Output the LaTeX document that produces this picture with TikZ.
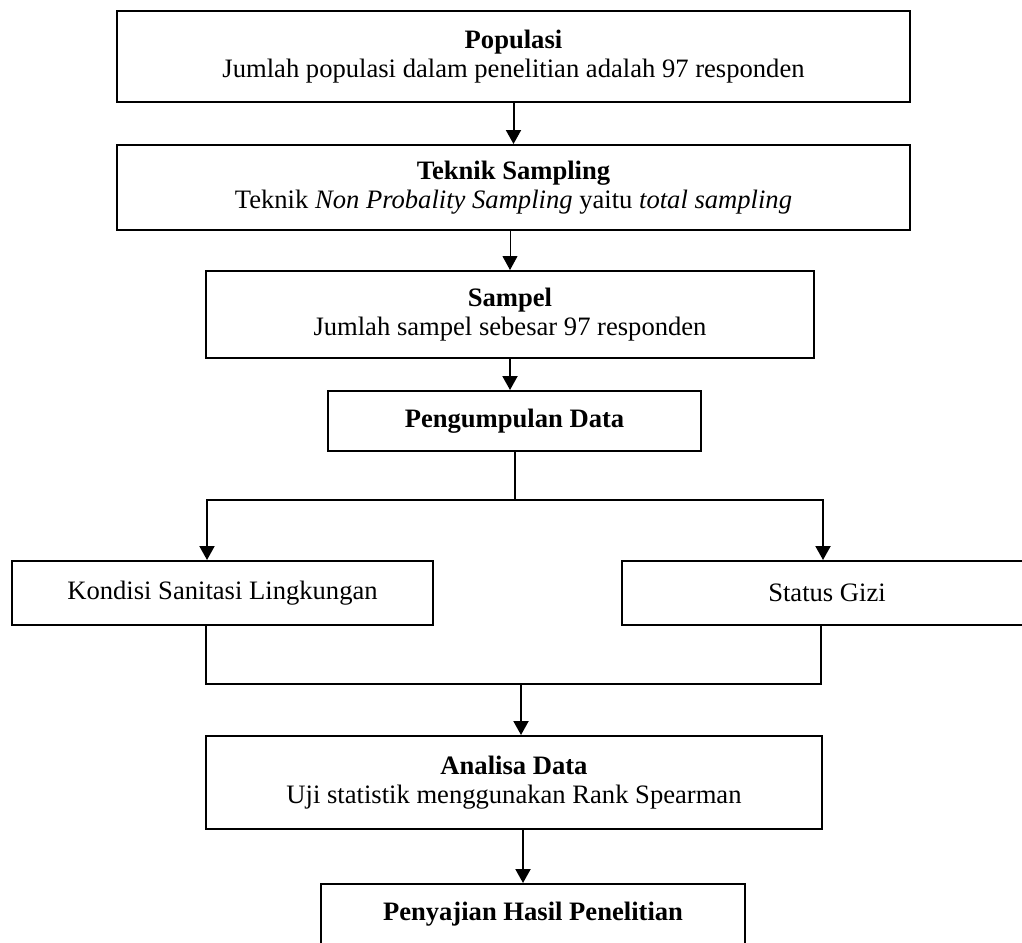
\documentclass[tikz,border=0pt]{standalone}
\usepackage{fontspec}
\setmainfont{Liberation Serif}
\usepackage{tikz}
\usetikzlibrary{arrows.meta}
\tikzset{
  box/.style={draw,line width=1pt,align=center,inner sep=0pt,font=\fontsize{13.3pt}{14.5pt}\selectfont},
}

\begin{document}
\begin{tikzpicture}[x=0.5pt,y=-0.5pt,line width=1pt,>={Triangle[width=7.5pt,length=7pt]}]
\useasboundingbox (0,0) rectangle (1022,942);

% Populasi and sampling
\node[box,minimum width=396.5pt,minimum height=45.5pt] (pop) at (513.5,56.5)
  {\textbf{Populasi}\\Jumlah populasi dalam penelitian adalah 97 responden};
\node[box,minimum width=396.5pt,minimum height=42.5pt] (tek) at (513.5,187.5)
  {\textbf{Teknik Sampling}\\Teknik \textit{Non Probality Sampling} yaitu \textit{total sampling}};
\node[box,minimum width=304pt,minimum height=43.5pt] (sam) at (510,314.5)
  {\textbf{Sampel}\\Jumlah sampel sebesar 97 responden};
\node[box,minimum width=186.5pt,minimum height=30pt] (kum) at (514.5,421)
  {\textbf{Pengumpulan Data}};

\draw[->] (pop.south) -- (tek.north);
\draw[->,line width=0.5pt] (tek.south -| sam.north) -- (sam.north);
\draw[->] (sam.south) -- (sam.south |- kum.north);

% Variables
\node[box,minimum width=210.5pt,minimum height=32pt] (kon) at (222.5,593) {Kondisi Sanitasi Lingkungan};
\node[box,minimum width=205pt,minimum height=32pt] (giz) at (827,593) {Status Gizi};

\coordinate (bl) at (207,500);
\coordinate (br) at (823,500);
\draw (kum.south) -- (kum.south |- bl);
\draw[<->] (kon.north -| bl) -- (bl) -- (br) -- (giz.north -| br);

% Joining the variables
\coordinate (jl) at (206,684);
\coordinate (jr) at (821,684);
\coordinate (jm) at (521,684);
\draw (kon.south -| jl) -- (jl) -- (jr) -- (giz.south -| jr);

% Analisa and hasil
\node[box,minimum width=308pt,minimum height=46.5pt] (ana) at (514,782.5)
  {\textbf{Analisa Data}\\Uji statistik menggunakan Rank Spearman};
\node[box,minimum width=212pt,minimum height=30pt] (saj) at (533,914)
  {\textbf{Penyajian Hasil Penelitian}};

\coordinate (am) at (523,0);
\draw[->] (jm) -- (jm |- ana.north);
\draw[->] (ana.south -| am) -- (saj.north -| am);

\end{tikzpicture}
\end{document}
